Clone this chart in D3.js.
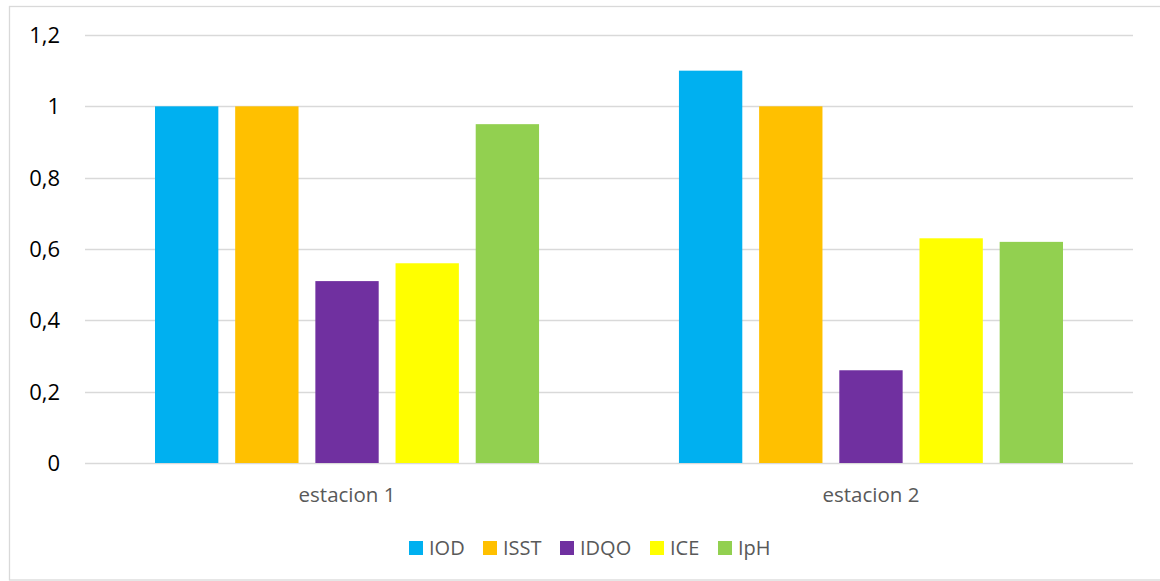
<!DOCTYPE html>
<html>
<head>
<meta charset="utf-8">
<script src="https://cdn.jsdelivr.net/npm/d3@7"></script>
<style>
  html, body { margin: 0; padding: 0; background: #fff; }
  svg { display: block; font-family: "Open Sans", "Liberation Sans", sans-serif; }
</style>
</head>
<body>
<svg id="chart" width="1160" height="581"></svg>
<script>
// Station categories and index series
const categories = ["estacion 1", "estacion 2"];
const seriesNames = ["IOD", "ISST", "IDQO", "ICE", "IpH"];
const seriesColors = ["#00B0F0", "#FFC000", "#7030A0", "#FFFF00", "#92D050"];
const valuesIOD  = [1.0, 1.1];
const valuesISST = [1.0, 1.0];
const valuesIDQO = [0.51, 0.26];
const valuesICE  = [0.56, 0.63];
const valuesIpH  = [0.95, 0.62];
const yTicks = [0, 0.2, 0.4, 0.6, 0.8, 1, 1.2];

const seriesValues = [valuesIOD, valuesISST, valuesIDQO, valuesICE, valuesIpH];
const rows = [];
categories.forEach((c, ci) => {
  seriesNames.forEach((s, si) => rows.push({ cat: c, series: s, value: seriesValues[si][ci], color: seriesColors[si] }));
});

const svg = d3.select("#chart");
const W = 1160, H = 581;

// chart frame
svg.append("rect")
  .attr("x", 9.5).attr("y", 6.5)
  .attr("width", W + 10).attr("height", H - 7.5)
  .attr("fill", "#fff").attr("stroke", "#d9d9d9").attr("stroke-width", 1.3);

const plot = { left: 85, right: 1133, top: 35, bottom: 463 };

const y = d3.scaleLinear().domain([0, 1.2]).range([plot.bottom, plot.top]);
const x0 = d3.scaleBand().domain(categories).range([plot.left, plot.right])
  .paddingInner(0.267).paddingOuter(0.1336);
const x1 = d3.scaleBand().domain(seriesNames).range([0, x0.bandwidth()])
  .paddingInner(0.21).paddingOuter(0);

// horizontal gridlines
svg.append("g").selectAll("line").data(yTicks).join("line")
  .attr("x1", plot.left).attr("x2", plot.right)
  .attr("y1", d => Math.round(y(d)) + 0.5).attr("y2", d => Math.round(y(d)) + 0.5)
  .attr("stroke", "#d9d9d9").attr("stroke-width", 1.3);

// y-axis tick labels
const fmt = d => String(+d.toFixed(1)).replace(".", ",");
svg.append("g").selectAll("text").data(yTicks).join("text")
  .attr("x", 60).attr("y", d => y(d))
  .attr("dy", "0.36em")
  .attr("text-anchor", "end")
  .attr("font-size", 22)
  .attr("fill", "#000")
  .text(fmt);

// bars
svg.append("g").selectAll("rect").data(rows).join("rect")
  .attr("x", d => x0(d.cat) + x1(d.series))
  .attr("y", d => y(d.value))
  .attr("width", x1.bandwidth())
  .attr("height", d => y(0) - y(d.value))
  .attr("fill", d => d.color);

// category labels
svg.append("g").selectAll("text").data(categories).join("text")
  .attr("x", d => x0(d) + x0.bandwidth() / 2)
  .attr("y", 502)
  .attr("text-anchor", "middle")
  .attr("font-size", 20.5)
  .attr("fill", "#595959")
  .text(d => d);

// legend
const legendX = [409, 483, 560, 650, 718];
const legend = svg.append("g").selectAll("g").data(seriesNames).join("g")
  .attr("transform", (d, i) => `translate(${legendX[i]},541)`);
legend.append("rect").attr("width", 14).attr("height", 14)
  .attr("fill", (d, i) => seriesColors[i]);
legend.append("text").attr("x", 20).attr("y", 7).attr("dy", "0.36em")
  .attr("font-size", 20).attr("fill", "#595959")
  .text(d => d);
</script>
</body>
</html>
